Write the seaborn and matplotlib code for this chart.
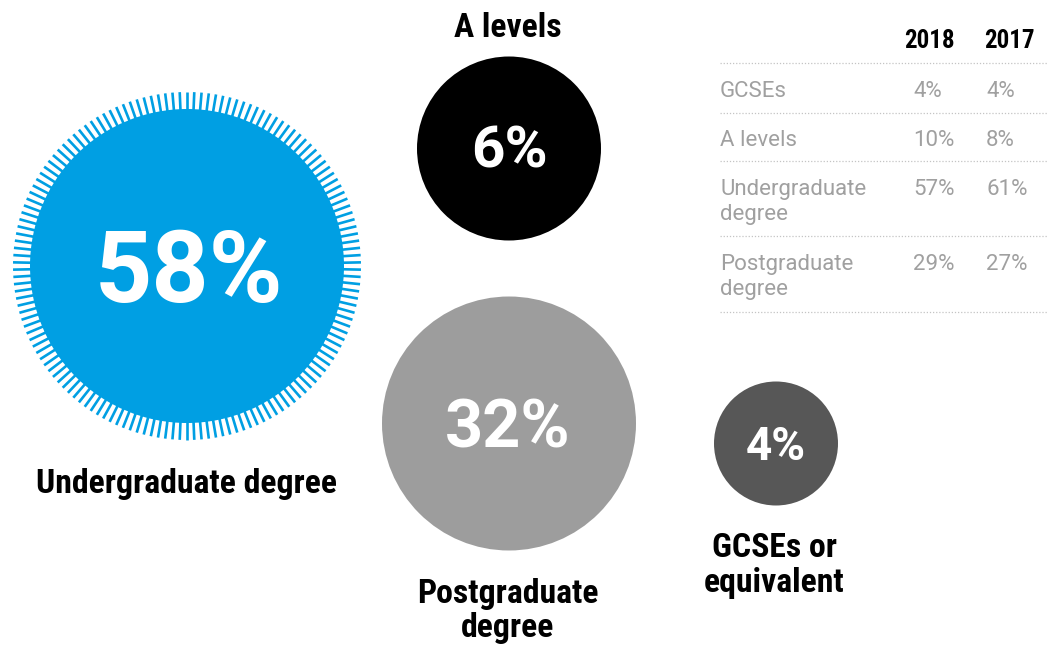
import numpy as np
import pandas as pd
import seaborn as sns
import matplotlib.pyplot as plt
from matplotlib import font_manager as fm
from matplotlib.collections import LineCollection

# Share of respondents by highest qualification (circles)
categories = ["Undergraduate degree", "Postgraduate degree", "A levels", "GCSEs or equivalent"]
shares = [58, 32, 6, 4]
label_lines = [["Undergraduate degree"], ["Postgraduate", "degree"], ["A levels"], ["GCSEs or", "equivalent"]]

# Comparison table
table_years = ["2018", "2017"]
table_rows = [["GCSEs"], ["A levels"], ["Undergraduate", "degree"], ["Postgraduate", "degree"]]
table_2018 = [4, 10, 57, 29]
table_2017 = [4, 8, 61, 27]

# Layout (pixel units) and styling
W, H, DPI = 1053, 650, 100
centers_x = [187, 509, 509, 776]
centers_y = [266, 423.5, 148.5, 443.5]
radii = [157, 127, 92, 62]
colors = ["#009fe3", "#9d9d9d", "#000000", "#575757"]
pct_pos = [(189, 302, 72), (508, 448, 48), (509, 168, 42), (776, 460, 33)]
label_baselines = [[493], [603, 637], [37], [557, 592]]
label_x = [186, 508, 508, 774]

sns.set_theme(style="white")
names = {f.name for f in fm.fontManager.ttflist}
cond = next((n for n in ["Roboto Condensed", "Liberation Sans Narrow", "Roboto"] if n in names), "DejaVu Sans")
regular = "Roboto" if "Roboto" in names else "DejaVu Sans"
plt.rcParams["font.family"] = [regular, "DejaVu Sans"]

fig = plt.figure(figsize=(W / DPI, H / DPI), dpi=DPI)
ax = fig.add_axes([0, 0, 1, 1])
ax.set_xlim(0, W)
ax.set_ylim(H, 0)
ax.axis("off")

df = pd.DataFrame({"x": centers_x, "y": centers_y, "category": categories, "share": shares})
sizes = [(2 * r * 72 / DPI) ** 2 for r in radii]
sns.scatterplot(data=df, x="x", y="y", hue="category",
                palette=dict(zip(categories, colors)), s=sizes,
                linewidth=0, legend=False, ax=ax, zorder=2)

# Radial tick ring around the largest circle
n_ticks = 150
ang = np.linspace(0, 2 * np.pi, n_ticks, endpoint=False) + np.pi / 2
r_in, r_out = 154, 174
cx, cy = centers_x[0], centers_y[0]
segs = [[(cx + r_in * np.cos(a), cy - r_in * np.sin(a)),
         (cx + r_out * np.cos(a), cy - r_out * np.sin(a))] for a in ang]
ax.add_collection(LineCollection(segs, colors=colors[0], linewidths=1.9,
                                 capstyle="butt", zorder=1.5))

# Percent labels inside circles and category names
for (px, py, fs), val in zip(pct_pos, df["share"]):
    ax.text(px, py, f"{val}%", ha="center", va="baseline", color="white",
            fontsize=fs, fontweight="bold", family=regular, zorder=3)

for lx, lines, bases in zip(label_x, label_lines, label_baselines):
    for line, by in zip(lines, bases):
        ax.text(lx, by, line, ha="center", va="baseline", color="black",
                fontsize=24.3, fontweight="bold", family=cond, zorder=3)

# Table
grey = "#a0a0a0"
rule_y = [63, 113, 161, 236, 312]
row_bases = [[97], [146], [195, 220], [270, 295]]
col_x = [913, 986]
for yr, hx in zip(table_years, [929, 1009]):
    ax.text(hx, 48, yr, ha="center", va="baseline", color="black",
            fontsize=18, fontweight="bold", family=cond)
for ry in rule_y:
    ax.plot([720, 1048], [ry, ry], color="#c4c4c4", lw=0.9, ls=(0, (1, 1.5)))
for lines, bases, v18, v17 in zip(table_rows, row_bases, table_2018, table_2017):
    for line, by in zip(lines, bases):
        ax.text(720, by, line, ha="left", va="baseline", color=grey, fontsize=16, family=regular)
    ax.text(col_x[0], bases[0], f"{v18}%", ha="left", va="baseline", color=grey, fontsize=16, family=regular)
    ax.text(col_x[1], bases[0], f"{v17}%", ha="left", va="baseline", color=grey, fontsize=16, family=regular)

fig.savefig("out.png", dpi=DPI, facecolor="white")
